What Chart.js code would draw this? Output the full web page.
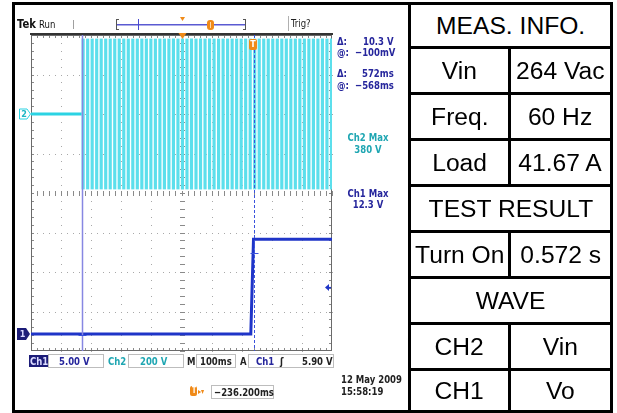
<!DOCTYPE html>
<html>
<head>
<meta charset="utf-8">
<script src="https://cdn.jsdelivr.net/npm/chart.js@4.4.0/dist/chart.umd.min.js"></script>
<style>
  html, body { margin: 0; padding: 0; background: #fff; }
  #wrap { position: relative; width: 617px; height: 413px; overflow: hidden; background: #fff; }
  #scope { position: absolute; left: 0; top: 0; }
  .bar { position: absolute; background: #000; }
  .cell { position: absolute; font-family: "Liberation Sans", Arial, sans-serif; font-size: 23px; line-height: 23px;
          color: #000; text-align: center; white-space: nowrap; }
  .cell span { display: inline-block; transform: scaleX(1.07); }
  .t { position: absolute; font-family: "DejaVu Sans Condensed", "DejaVu Sans", sans-serif; font-stretch: condensed;
       font-weight: bold; font-size: 11px; line-height: 11px; white-space: nowrap; color: #26269c;
       transform: scaleX(0.86); transform-origin: 0 0; }
  .tc { transform-origin: 50% 0; text-align: center; }
  .box { position: absolute; border: 1px solid #bdbdbd; background: #fff; }
</style>
</head>
<body>
<div id="wrap">
  <canvas id="scope" width="408" height="413"></canvas>

  <!-- scope header -->
  <div class="t" style="left:17px;top:17px;font-size:13px;line-height:13px;color:#111;">Tek</div>
  <div class="t" style="left:39px;top:19px;font-weight:normal;color:#111;">Run</div>
  <div class="t" style="left:291px;top:18px;font-weight:normal;color:#222;">Trig?</div>

  <!-- cursor readouts -->
  <div class="t" style="left:337px;top:36px;">Δ:</div>
  <div class="t" style="left:363px;top:36px;">10.3 V</div>
  <div class="t" style="left:337px;top:47px;">@:</div>
  <div class="t" style="left:355px;top:47px;">−100mV</div>
  <div class="t" style="left:337px;top:68px;">Δ:</div>
  <div class="t" style="left:362px;top:68px;">572ms</div>
  <div class="t" style="left:337px;top:80px;">@:</div>
  <div class="t" style="left:355px;top:80px;">−568ms</div>
  <div class="t tc" style="left:338px;top:132px;width:60px;color:#1fa6b2;">Ch2 Max</div>
  <div class="t tc" style="left:338px;top:144px;width:60px;color:#1fa6b2;">380 V</div>
  <div class="t tc" style="left:338px;top:188px;width:60px;">Ch1 Max</div>
  <div class="t tc" style="left:338px;top:199px;width:60px;">12.3 V</div>

  <!-- channel / timebase settings -->
  <div style="position:absolute;left:29px;top:355px;width:19px;height:12px;background:#1c1c78;"></div>
  <div class="t" style="left:30px;top:356px;color:#dcdcff;">Ch1</div>
  <div class="box" style="left:48px;top:354px;width:54px;height:12px;"></div>
  <div class="t" style="left:59px;top:356px;">5.00 V</div>
  <div class="t" style="left:108px;top:356px;color:#1fa6b2;">Ch2</div>
  <div class="box" style="left:128px;top:354px;width:54px;height:12px;"></div>
  <div class="t" style="left:140px;top:356px;color:#1fa6b2;">200 V</div>
  <div class="t" style="left:187px;top:356px;color:#222;">M</div>
  <div class="box" style="left:196px;top:354px;width:38px;height:12px;"></div>
  <div class="t" style="left:200px;top:356px;color:#222;">100ms</div>
  <div class="t" style="left:240px;top:356px;color:#222;">A</div>
  <div class="box" style="left:248px;top:354px;width:84px;height:12px;"></div>
  <div class="t" style="left:256px;top:356px;">Ch1</div>
  <div class="t" style="left:280px;top:356px;color:#222;">ʃ</div>
  <div class="t" style="left:302px;top:356px;color:#222;">5.90 V</div>

  <div style="position:absolute;left:190px;top:386px;width:7px;height:10px;background:#f08a18;border-radius:2px;"></div>
  <div class="t" style="left:191.5px;top:387px;font-size:8px;line-height:8px;color:#fff;">T</div>
  <div class="t" style="left:198px;top:386px;font-size:8px;color:#f08a18;">▸▾</div>
  <div class="box" style="left:211px;top:385px;width:61px;height:12px;"></div>
  <div class="t" style="left:214px;top:387px;color:#222;">−236.200ms</div>
  <div class="t" style="left:341px;top:374px;color:#222;">12 May 2009</div>
  <div class="t" style="left:341px;top:386px;color:#222;">15:58:19</div>

  <!-- outer frame -->
  <div class="bar" style="left:12px;top:2px;width:601px;height:3px;"></div>
  <div class="bar" style="left:12px;top:2px;width:3px;height:411px;"></div>
  <div class="bar" style="left:12px;top:410px;width:601px;height:3px;"></div>
  <div class="bar" style="left:610px;top:2px;width:3px;height:411px;"></div>

  <!-- measurement table -->
  <div class="bar" style="left:408px;top:2px;width:3px;height:411px;"></div>
  <div id="table"></div>
</div>

<script>
// ---- measurement table ----
const tableRows = [
  ['MEAS. INFO.'],
  ['Vin', '264 Vac'],
  ['Freq.', '60 Hz'],
  ['Load', '41.67 A'],
  ['TEST RESULT'],
  ['Turn On', '0.572 s'],
  ['WAVE'],
  ['CH2', 'Vin'],
  ['CH1', 'Vo']
];
const rowLines = [3.5, 47, 93, 139, 185, 231, 277, 323, 369, 411.5];

const tbl = document.getElementById('table');
function addDiv(cls, style, text) {
  const d = document.createElement('div');
  d.className = cls;
  d.setAttribute('style', style);
  if (text !== undefined) { const s = document.createElement('span'); s.textContent = text; d.appendChild(s); }
  tbl.appendChild(d);
}
tableRows.forEach((row, i) => {
  const top = rowLines[i];
  const mid = (rowLines[i] + rowLines[i + 1]) / 2;
  // caps centred in the row (cap height ≈ 16.5px, baseline 19.5px below the box top)
  const textTop = mid + 8.25 - 19.5 + 1;
  if (i > 0) addDiv('bar', `left:408px;top:${top - 1.5}px;width:205px;height:3px;`);
  if (row.length === 1) {
    addDiv('cell', `left:411px;top:${textTop}px;width:199px;`, row[0]);
  } else {
    addDiv('bar', `left:508px;top:${top}px;width:3px;height:${rowLines[i + 1] - top}px;`);
    addDiv('cell', `left:411px;top:${textTop}px;width:97px;`, row[0]);
    addDiv('cell', `left:511px;top:${textTop}px;width:99px;`, row[1]);
  }
});

// ---- scope traces ----
// screen: 10 div × 100 ms, horizontal position −236.2 ms from the trigger
const timeRange = [-736.2, 263.8];
const timeDivs = 10;
// Ch1 5 V/div, Ch2 200 V/div, 8 divisions tall
const ch1Range = [-2.15, 37.85];
const ch2Range = [-1200, 400];
const vertDivs = 8;

// Ch1: output voltage (V) vs time (ms)
const ch1Times = [-736.2, -6, 3, 263.8];
const ch1Volts = [0, 0, 12.0, 12.0];

// Ch2: input voltage, idle until the AC is switched in
const ch2IdleTimes = [-736.2, -568];
const ch2IdleVolts = [0, 0];
// Ch2: displayed cycle envelope after switch-on (ms) and its peaks (V)
const ch2CycleTimes = [-563, -548, -533, -518, -503, -488, -473, -458, -443, -428, -413, -398, -383, -368,
  -353, -338, -323, -308, -293, -278, -263, -248, -233, -218, -203, -188, -173, -158, -143, -128, -113,
  -98, -83, -68, -53, -38, -23, -8, 7, 22, 37, 52, 67, 82, 97, 112, 127, 142, 157, 172, 187, 202, 217,
  232, 247, 262];
const ch2Envelope = [-380, 380];

// cursors (ms) and the Ch1 value each one reads (V)
const cursorTimes = [-568, 4];
const cursorVolts = [-0.1, 10.2];
// trigger point, level and horizontal position
const triggerTime = 0;
const triggerLevel = 5.9;
const horizPosition = -236.2;

const COL_CH1 = '#1f35c8';
const COL_CH2 = '#2bd3e3';
const COL_ORANGE = '#f08a18';

const scopePlugin = {
  id: 'scopeGraticule',
  beforeDatasetsDraw(chart) {
    const { ctx, chartArea: a, scales } = chart;
    const x = scales.x, y = scales.y1;
    const tStep = (timeRange[1] - timeRange[0]) / timeDivs;
    const vStep = (ch1Range[1] - ch1Range[0]) / vertDivs;
    const px = t => Math.round(x.getPixelForValue(t));
    const py = v => Math.round(y.getPixelForValue(v));
    ctx.save();
    // dotted division lines
    ctx.fillStyle = '#a8a8a8';
    for (let i = 1; i < timeDivs; i++) {
      const cx = px(timeRange[0] + i * tStep);
      for (let k = 0; k <= vertDivs * 5; k++) ctx.fillRect(cx, py(ch1Range[0] + k * vStep / 5), 1, 1);
    }
    for (let j = 1; j < vertDivs; j++) {
      const cy = py(ch1Range[0] + j * vStep);
      for (let k = 0; k <= timeDivs * 5; k++) ctx.fillRect(px(timeRange[0] + k * tStep / 5), cy, 1, 1);
    }
    // centre cross with minor ticks
    const cx = px(timeRange[0] + 5 * tStep), cy = py(ch1Range[0] + 4 * vStep);
    ctx.fillStyle = '#8a8a8a';
    for (let k = 0; k <= vertDivs * 5; k++) ctx.fillRect(cx - 2, py(ch1Range[0] + k * vStep / 5), 5, 1);
    for (let k = 0; k <= timeDivs * 5; k++) ctx.fillRect(px(timeRange[0] + k * tStep / 5), cy - 2, 1, 5);
    // border ticks
    for (let k = 1; k < vertDivs * 5; k++) {
      const yy = py(ch1Range[0] + k * vStep / 5);
      ctx.fillRect(a.left, yy, 3, 1);
      ctx.fillRect(a.right - 3, yy, 3, 1);
    }
    for (let k = 1; k < timeDivs * 5; k++) {
      const xx = px(timeRange[0] + k * tStep / 5);
      ctx.fillRect(xx, a.top, 1, 3);
      ctx.fillRect(xx, a.bottom - 3, 1, 3);
    }
    // frame
    ctx.strokeStyle = '#6a6a6a';
    ctx.lineWidth = 1;
    ctx.strokeRect(a.left + 0.5, a.top + 0.5, a.right - a.left - 1, a.bottom - a.top - 1);
    ctx.fillStyle = '#333';
    ctx.fillRect(a.left - 1, a.top - 2, a.right - a.left + 2, 2);
    ctx.restore();
  },
  afterDatasetsDraw(chart) {
    const { ctx, chartArea: a, scales } = chart;
    const x = scales.x, y1 = scales.y1, y2 = scales.y2;
    ctx.save();
    // cursor 1 (solid) and cursor 2 (dashed)
    const c1 = Math.round(x.getPixelForValue(cursorTimes[0])) + 0.5;
    const c2 = Math.round(x.getPixelForValue(cursorTimes[1])) + 0.5;
    ctx.strokeStyle = '#8787e2';
    ctx.lineWidth = 1.5;
    ctx.beginPath(); ctx.moveTo(c1, a.top); ctx.lineTo(c1, a.bottom); ctx.stroke();
    ctx.strokeStyle = '#3a52dc';
    ctx.lineWidth = 1;
    ctx.setLineDash([3, 2]);
    ctx.beginPath(); ctx.moveTo(c2, a.top); ctx.lineTo(c2, a.bottom); ctx.stroke();
    ctx.setLineDash([]);
    // cursor read points
    ctx.strokeStyle = '#3a52dc';
    cursorTimes.forEach((t, i) => {
      const xx = Math.round(x.getPixelForValue(t)) + 0.5;
      const yy = Math.round(y1.getPixelForValue(cursorVolts[i])) + 0.5;
      ctx.beginPath(); ctx.moveTo(xx - 4, yy); ctx.lineTo(xx + 4, yy); ctx.stroke();
    });

    // ground markers
    const g2 = y2.getPixelForValue(0), g1 = y1.getPixelForValue(0);
    ctx.font = 'bold 9px "DejaVu Sans Condensed", "DejaVu Sans", sans-serif';
    ctx.textAlign = 'center'; ctx.textBaseline = 'middle';
    ctx.beginPath();
    ctx.moveTo(19.5, g2 - 5); ctx.lineTo(27, g2 - 5); ctx.lineTo(30.5, g2); ctx.lineTo(27, g2 + 5); ctx.lineTo(19.5, g2 + 5);
    ctx.closePath();
    ctx.fillStyle = '#fff'; ctx.fill();
    ctx.strokeStyle = COL_CH2; ctx.lineWidth = 1; ctx.stroke();
    ctx.fillStyle = '#1fb6c4'; ctx.fillText('2', 24, g2 + 0.5);
    ctx.beginPath();
    ctx.moveTo(17, g1 - 6); ctx.lineTo(26, g1 - 6); ctx.lineTo(30, g1); ctx.lineTo(26, g1 + 6); ctx.lineTo(17, g1 + 6);
    ctx.closePath();
    ctx.fillStyle = '#1c1c78'; ctx.fill();
    ctx.fillStyle = '#d8d8ff'; ctx.fillText('1', 22.5, g1 + 0.5);

    // trigger level arrow on the right edge
    const tl = y1.getPixelForValue(triggerLevel);
    ctx.fillStyle = COL_CH1;
    ctx.beginPath(); ctx.moveTo(a.right - 7, tl); ctx.lineTo(a.right - 3, tl - 3.5); ctx.lineTo(a.right - 3, tl + 3.5); ctx.closePath(); ctx.fill();
    ctx.fillRect(a.right - 3, tl - 0.5, 2, 1.5);

    // horizontal position marker
    const hp = Math.round(x.getPixelForValue(horizPosition)) + 0.5;
    ctx.fillStyle = COL_ORANGE;
    ctx.beginPath(); ctx.moveTo(hp - 4, a.top - 2); ctx.lineTo(hp + 4, a.top - 2); ctx.lineTo(hp, a.top + 4); ctx.closePath(); ctx.fill();
    ctx.beginPath(); ctx.moveTo(hp - 2.5, 17); ctx.lineTo(hp + 2.5, 17); ctx.lineTo(hp, 21); ctx.closePath(); ctx.fill();

    // trigger point marker
    const tp = Math.round(x.getPixelForValue(triggerTime));
    ctx.fillStyle = COL_ORANGE;
    ctx.beginPath();
    if (ctx.roundRect) ctx.roundRect(tp - 4, a.top + 4, 8, 11, 2); else ctx.rect(tp - 4, a.top + 4, 8, 11);
    ctx.fill();
    ctx.fillStyle = '#fff';
    ctx.font = 'bold 8px "DejaVu Sans", sans-serif';
    ctx.fillText('T', tp, a.top + 10);

    // record bar in the header
    ctx.fillStyle = '#a0a0a0'; ctx.fillRect(73, 20, 1, 9);
    ctx.fillStyle = '#555';
    ctx.fillRect(116, 19, 1, 11); ctx.fillRect(116, 19, 3, 1); ctx.fillRect(116, 29, 3, 1);
    ctx.fillRect(245, 19, 1, 11); ctx.fillRect(243, 19, 3, 1); ctx.fillRect(243, 29, 3, 1);
    ctx.fillStyle = '#5a5ad2'; ctx.fillRect(117, 24, 128, 1.5);
    ctx.fillStyle = '#4848d0'; ctx.fillRect(138, 19, 1, 11);
    ctx.fillStyle = COL_ORANGE;
    ctx.beginPath();
    if (ctx.roundRect) ctx.roundRect(207, 20, 7, 10, 3); else ctx.rect(207, 20, 7, 10);
    ctx.fill();
    ctx.fillStyle = '#ffd9a8'; ctx.fillRect(210, 22, 1, 6);
    ctx.fillStyle = '#b0b0b0'; ctx.fillRect(288, 16, 1, 15);
    ctx.restore();
  }
};

new Chart(document.getElementById('scope'), {
  type: 'line',
  data: {
    datasets: [
      {
        label: 'Ch1',
        data: ch1Times.map((t, i) => ({ x: t, y: ch1Volts[i] })),
        yAxisID: 'y1',
        borderColor: COL_CH1,
        borderWidth: 3,
        pointRadius: 0,
        tension: 0
      },
      {
        label: 'Ch2',
        data: ch2IdleTimes.map((t, i) => ({ x: t, y: ch2IdleVolts[i] })),
        yAxisID: 'y2',
        borderColor: COL_CH2,
        borderWidth: 3,
        pointRadius: 0,
        tension: 0
      },
      {
        type: 'bar',
        label: 'Ch2 cycles',
        data: ch2CycleTimes.map(t => ({ x: t, y: ch2Envelope.slice() })),
        yAxisID: 'y2',
        backgroundColor: '#5cdfec',
        borderWidth: 0,
        barThickness: 2.5
      }
    ]
  },
  options: {
    responsive: false,
    animation: false,
    devicePixelRatio: 1,
    layout: { padding: { left: 31, top: 35, right: 76, bottom: 62 } },
    plugins: { legend: { display: false }, tooltip: { enabled: false } },
    scales: {
      x: { type: 'linear', min: timeRange[0], max: timeRange[1], display: false, offset: false },
      y1: { type: 'linear', min: ch1Range[0], max: ch1Range[1], display: false },
      y2: { type: 'linear', min: ch2Range[0], max: ch2Range[1], display: false }
    }
  },
  plugins: [scopePlugin]
});
</script>
</body>
</html>
